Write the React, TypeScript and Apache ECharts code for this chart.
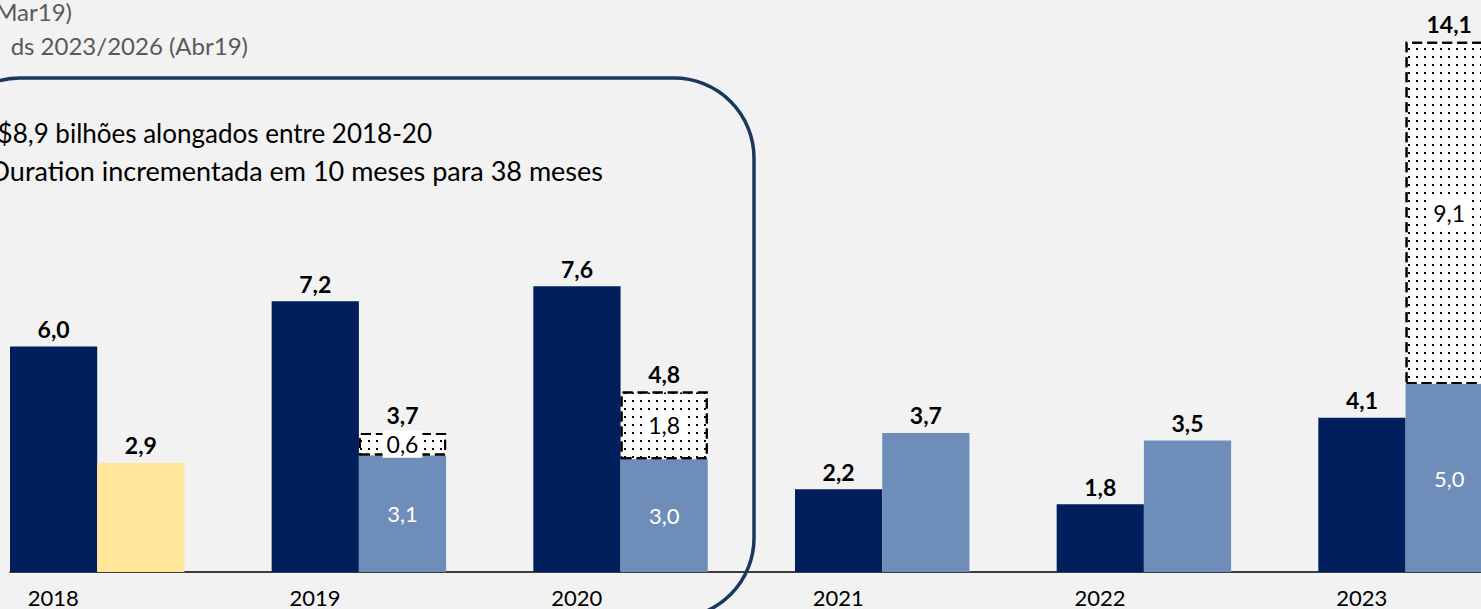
import React, { useEffect, useRef } from "react";
import * as echarts from "echarts";

const categories = ["2018", "2019", "2020", "2021", "2022", "2023"];
const darkValues = [6.0, 7.2, 7.6, 2.2, 1.8, 4.1];
const lightValues = [2.9, 3.1, 3.0, 3.7, 3.5, 5.0];
const dottedValues = [0, 0.6, 1.8, 0, 0, 9.1];
const totals = [2.9, 3.7, 4.8, 3.7, 3.5, 14.1];
const legendLines = ["(Mar19)", "ds 2023/2026 (Abr19)"];
const boxLines = [
  "R$8,9 bilhões alongados entre 2018-20",
  "Duration incrementada em 10 meses para 38 meses",
];

const FONT = "Lato, 'Open Sans', sans-serif";
const fmt = (v: number) => v.toFixed(1).replace(".", ",");

export default function App() {
  const ref = useRef<HTMLDivElement>(null);
  useEffect(() => {
    if (!ref.current) return;
    const chart = echarts.init(ref.current, null, { renderer: "svg" });
    const topLabel = {
      show: true,
      position: "top",
      distance: 6,
      color: "#000",
      fontWeight: "bold",
      fontSize: 23,
      fontFamily: FONT,
      formatter: (p: any) => fmt(p.value),
    };
    const option: any = {
      animation: false,
      backgroundColor: "#F2F2F2",
      grid: { left: 10, top: 8, bottom: 37, width: 1570 },
      xAxis: {
        type: "category",
        data: categories,
        axisLine: { show: true, lineStyle: { color: "#000", width: 1.5 } },
        axisTick: { show: false },
        axisLabel: {
          color: "#000",
          fontSize: 22,
          fontFamily: FONT,
          margin: 14,
          padding: [0, 175, 0, 0],
        },
      },
      yAxis: { type: "value", min: 0, max: 15, show: false, splitLine: { show: false } },
      series: [
        {
          name: "dark",
          type: "bar",
          stack: "a",
          barGap: "0%",
          barCategoryGap: "0%",
          data: darkValues,
          itemStyle: { color: "#001F5C" },
          label: topLabel,
        },
        {
          name: "light",
          type: "bar",
          stack: "b",
          data: lightValues.map((v, i) => {
            const hasDotted = dottedValues[i] > 0;
            return {
              value: v,
              itemStyle: { color: i === 0 ? "#FFE699" : "#6F8DB9" },
              label: hasDotted
                ? {
                    show: true,
                    position: "inside",
                    color: "#fff",
                    fontSize: 22,
                    fontFamily: FONT,
                    formatter: fmt(v),
                  }
                : { ...topLabel, formatter: fmt(v) },
            };
          }),
        },
        {
          name: "dotted",
          type: "bar",
          stack: "b",
          data: dottedValues.map((v) => (v > 0 ? v : "-")),
          itemStyle: {
            color: "#fff",
            borderColor: "#000",
            borderWidth: 2,
            borderType: [10, 5],
            decal: {
              symbol: "rect",
              symbolSize: 1,
              color: "#000",
              backgroundColor: null,
              dashArrayX: [2, 6],
              dashArrayY: [2, 6],
              rotation: 0,
            },
          },
          label: {
            show: true,
            position: "inside",
            color: "#000",
            fontSize: 23,
            fontFamily: FONT,
            backgroundColor: "#fff",
            padding: [2, 4],
            formatter: (p: any) => fmt(p.value),
          },
        },
        {
          name: "total",
          type: "bar",
          stack: "b",
          data: dottedValues.map((v) => (v > 0 ? 0 : "-")),
          itemStyle: { color: "transparent" },
          label: { ...topLabel, formatter: (p: any) => fmt(totals[p.dataIndex]) },
        },
        {
          name: "spacer",
          type: "bar",
          stack: "c",
          data: categories.map(() => "-"),
        },
      ],
      graphic: [
        {
          type: "rect",
          z: 100,
          shape: { x: -60, y: 78, width: 814, height: 540, r: 80 },
          style: { fill: "none", stroke: "#1B375F", lineWidth: 3.5 },
        },
        {
          type: "text",
          z: 100,
          x: 72,
          y: 11,
          style: {
            text: legendLines[0],
            fill: "#595959",
            font: `24px ${FONT}`,
            textAlign: "right",
            textVerticalAlign: "middle",
          },
        },
        {
          type: "text",
          z: 100,
          x: 248,
          y: 45,
          style: {
            text: legendLines[1],
            fill: "#595959",
            font: `24px ${FONT}`,
            textAlign: "right",
            textVerticalAlign: "middle",
          },
        },
        {
          type: "text",
          z: 100,
          x: 432,
          y: 133,
          style: {
            text: boxLines[0],
            fill: "#000",
            font: `26px ${FONT}`,
            textAlign: "right",
            textVerticalAlign: "middle",
          },
        },
        {
          type: "text",
          z: 100,
          x: 603,
          y: 170,
          style: {
            text: boxLines[1],
            fill: "#000",
            font: `27px ${FONT}`,
            textAlign: "right",
            textVerticalAlign: "middle",
          },
        },
      ],
    };
    chart.setOption(option);
    return () => chart.dispose();
  }, []);
  return (
    <div
      style={{
        position: "absolute",
        left: 0,
        top: 0,
        width: 1481,
        height: 609,
        overflow: "hidden",
        background: "#F2F2F2",
      }}
    >
      <div ref={ref} style={{ width: 1600, height: 609 }} />
    </div>
  );
}
